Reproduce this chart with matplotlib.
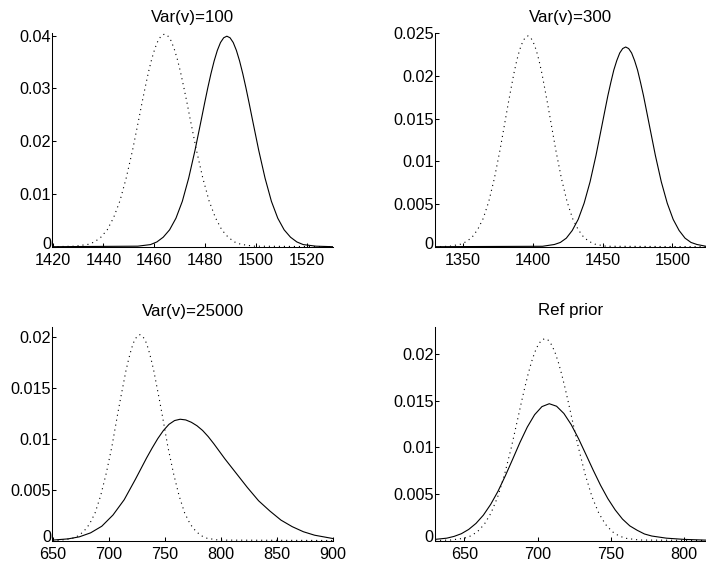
import matplotlib
matplotlib.use("Agg")
import matplotlib.pyplot as plt
from matplotlib.ticker import FixedLocator, FuncFormatter
from matplotlib.transforms import ScaledTranslation

plt.rcParams['font.family'] = ['Liberation Sans', 'DejaVu Sans']

# ---------------- data ----------------
titles = ["Var(v)=100", "Var(v)=300", "Var(v)=25000", "Ref prior"]

p1_solid_x = [1420, 1453.5, 1458.5, 1461, 1463.5, 1466, 1468.5, 1471, 1473.5, 1476,
              1478.5, 1479.75, 1481, 1482.25, 1483.5, 1484.75, 1486, 1487.25, 1488.5,
              1489.75, 1491, 1492.25, 1493.5, 1494.75, 1496, 1497.25, 1498.5,
              1501, 1503.5, 1506, 1508.5, 1511, 1513.5, 1516, 1518.5, 1523.5, 1530]
p1_solid_y = [0, .0001, .0004, .0009, .0018, .0032, .0054, .0086, .0130, .0183,
              .0242, .0272, .0301, .0328, .0352, .0372, .0387, .0396, .0399,
              .0396, .0387, .0372, .0352, .0328, .0301, .0272, .0242,
              .0183, .0130, .0086, .0054, .0032, .0018, .0009, .0004, .0001, 0]
p1_dot_x = [1420, 1429, 1434, 1436.5, 1439, 1441.5, 1444, 1446.5, 1449, 1451.5,
            1454, 1455.25, 1456.5, 1457.75, 1459, 1460.25, 1461.5, 1462.75, 1464,
            1465.25, 1466.5, 1467.75, 1469, 1470.25, 1471.5, 1472.75, 1474,
            1476.5, 1479, 1481.5, 1484, 1486.5, 1489, 1491.5, 1494, 1499, 1530]
p1_dot_y = [0, .0001, .00045, .0009, .0018, .0032, .0055, .0087, .0131, .0184,
            .0244, .0275, .0304, .0332, .0356, .0376, .0391, .0400, .0403,
            .0400, .0391, .0376, .0356, .0332, .0304, .0275, .0244,
            .0184, .0131, .0087, .0055, .0032, .0018, .0009, .00045, .0001, 0]

p2_solid_x = [1330, 1407, 1415.5, 1419.75, 1424, 1428.25, 1432.5, 1436.75, 1441, 1445.25,
              1449.5, 1451.625, 1453.75, 1455.875, 1458, 1460.125, 1462.25, 1464.375, 1466.5,
              1468.625, 1470.75, 1472.875, 1475, 1477.125, 1479.25, 1481.375, 1483.5,
              1487.75, 1492, 1496.25, 1500.5, 1504.75, 1509, 1513.25, 1517.5, 1524]
p2_solid_y = [0, .00005, .00026, .0005, .0010, .0019, .0032, .0051, .0076, .0107,
              .0142, .01596, .0177, .01925, .0207, .02181, .0227, .02322, .0234,
              .02322, .0227, .02181, .0207, .01925, .0177, .01596, .0142,
              .0107, .0076, .0051, .0032, .0019, .0010, .0005, .00026, .00005]
p2_dot_x = [1330, 1340.5, 1348.5, 1352.5, 1356.5, 1360.5, 1364.5, 1368.5, 1372.5, 1376.5,
            1380.5, 1382.5, 1384.5, 1386.5, 1388.5, 1390.5, 1392.5, 1394.5, 1396.5,
            1398.5, 1400.5, 1402.5, 1404.5, 1406.5, 1408.5, 1410.5, 1412.5,
            1416.5, 1420.5, 1424.5, 1428.5, 1432.5, 1436.5, 1440.5, 1444.5, 1452.5, 1524]
p2_dot_y = [0, .00005, .0003, .0006, .0011, .0020, .0033, .0053, .0080, .0113,
            .0150, .01685, .0186, .02032, .0218, .02302, .0239, .02451, .0247,
            .02451, .0239, .02302, .0218, .02032, .0186, .01685, .0150,
            .0113, .0080, .0053, .0033, .0020, .0011, .0006, .0003, .00005, 0]

p3_solid_x = [650, 664, 674, 684, 694, 704, 714, 724, 734, 739,
              744, 749, 754, 759, 764, 769, 774, 779, 784, 789,
              794, 804, 814, 824, 834, 844, 854, 864, 874, 884, 900]
p3_solid_y = [.00004, .00016, .00036, .00075, .0014, .0025, .0040, .0060, .0081, .00908,
              .0100, .01079, .0114, .01177, .0119, .01183, .0116, .01126, .0108, .0102,
              .0095, .0080, .0066, .0052, .0039, .0029, .0020, .00136, .00086, .00052, .0002]
p3_dot_x = [650, 658, 668, 673, 678, 683, 688, 693, 698, 703,
            708, 710.5, 713, 715.5, 718, 720.5, 723, 725.5, 728,
            730.5, 733, 735.5, 738, 740.5, 743, 745.5, 748,
            753, 758, 763, 768, 773, 778, 783, 788, 798, 900]
p3_dot_y = [0, .00004, .00022, .00046, .0009, .0016, .0027, .0044, .0066, .0092,
            .0123, .01378, .0152, .01662, .0178, .01883, .0196, .02004, .0202,
            .02004, .0196, .01883, .0178, .01662, .0152, .01378, .0123,
            .0092, .0066, .0044, .0027, .0016, .0009, .00046, .00022, .00004, 0]

p4_solid_x = [630, 638, 643, 648, 653, 658, 663, 668, 673, 678,
              683, 688, 693, 698, 703, 708, 713, 718, 723, 728,
              733, 738, 743, 748, 753, 758, 763, 768, 773, 778, 788, 800, 815]
p4_solid_y = [.00012, .00025, .00044, .00073, .00119, .00184, .00272, .00388, .00529, .00695,
              .00873, .01054, .01219, .01352, .01439, .0147, .01443, .01365, .01245, .01094,
              .00926, .00756, .00594, .0045, .00329, .0023, .00157, .0011, .0007, .00048,
              .00025, .00012, .00004]
p4_dot_x = [630, 640.6, 649.8, 654.4, 659, 663.6, 668.2, 672.8, 677.4, 682,
            686.6, 688.9, 691.2, 693.5, 695.8, 698.1, 700.4, 702.7, 705,
            707.3, 709.6, 711.9, 714.2, 716.5, 718.8, 721.1, 723.4,
            728, 732.6, 737.2, 741.8, 746.4, 751, 755.6, 760.2, 769.4, 815]
p4_dot_y = [0, .00005, .00024, .00049, .00095, .00173, .00294, .00469, .00705, .00993,
            .01316, .0148, .01638, .01785, .01915, .02023, .02103, .02153, .0217,
            .02153, .02103, .02023, .01915, .01785, .01638, .0148, .01316,
            .00993, .00705, .00469, .00294, .00173, .00095, .00049, .00024, .00005, 0]

x_ticks = [[1420, 1440, 1460, 1480, 1500, 1520],
           [1350, 1400, 1450, 1500],
           [650, 700, 750, 800, 850, 900],
           [650, 700, 750, 800]]
y_ticks = [[0, 0.01, 0.02, 0.03, 0.04],
           [0, 0.005, 0.01, 0.015, 0.02, 0.025],
           [0, 0.005, 0.01, 0.015, 0.02],
           [0, 0.005, 0.01, 0.015, 0.02]]
x_lims = [(1420, 1530), (1330, 1524), (650, 900), (630, 815)]
y_lims = [(0, 0.0406), (0, 0.0251), (0, 0.0210), (0, 0.0230)]

solids = [(p1_solid_x, p1_solid_y), (p2_solid_x, p2_solid_y),
          (p3_solid_x, p3_solid_y), (p4_solid_x, p4_solid_y)]
dots = [(p1_dot_x, p1_dot_y), (p2_dot_x, p2_dot_y),
        (p3_dot_x, p3_dot_y), (p4_dot_x, p4_dot_y)]

# ---------------- layout ----------------
W, H = 706, 567
fig = plt.figure(figsize=(W / 100, H / 100), dpi=100)
fig.patch.set_facecolor('white')

def frac(left, top, right, bottom):
    return [left / W, (H - bottom) / H, (right - left) / W, (bottom - top) / H]

positions = [frac(52.5, 32.5, 332.5, 246.7),
             frac(435, 32.5, 706, 246.7),
             frac(52.5, 326.5, 332.5, 540.5),
             frac(435, 326.5, 706, 540.5)]
title_pads = [7.5, 7.5, 7.5, 8.5]

FS = 11.7

def fmt(v, pos):
    s = ('%.3f' % v).rstrip('0').rstrip('.')
    return s if s else '0'

for i in range(4):
    ax = fig.add_axes(positions[i])
    sx, sy = solids[i]
    dx, dy = dots[i]
    ax.plot(dx, dy, color='black', lw=0.8, linestyle=(0, (1, 3.5)),
            dash_capstyle='butt')
    ax.plot(sx, sy, color='black', lw=0.8, solid_joinstyle='round')
    ax.set_xlim(*x_lims[i])
    ax.set_ylim(*y_lims[i])
    ax.xaxis.set_major_locator(FixedLocator(x_ticks[i]))
    ax.yaxis.set_major_locator(FixedLocator(y_ticks[i]))
    ax.yaxis.set_major_formatter(FuncFormatter(fmt))
    for s in ['top', 'right']:
        ax.spines[s].set_visible(False)
    for s in ['left', 'bottom']:
        ax.spines[s].set_linewidth(0.75)
        ax.spines[s].set_color('black')
    ax.tick_params(axis='both', direction='in', length=3.2, width=0.75,
                   labelsize=FS, colors='black')
    ax.tick_params(axis='y', pad=1.0)
    ax.tick_params(axis='x', pad=4.5)
    ax.set_title(titles[i], fontsize=12.2, pad=title_pads[i])
    ax.set_facecolor('none')
    # lift the bottom "0" label slightly, as in the reference
    t0 = ax.yaxis.get_major_ticks()[0]
    t0.label1.set_transform(t0.label1.get_transform() +
                            ScaledTranslation(0, 3.0 / 72, fig.dpi_scale_trans))

fig.savefig('out.png', dpi=100, facecolor='white')
